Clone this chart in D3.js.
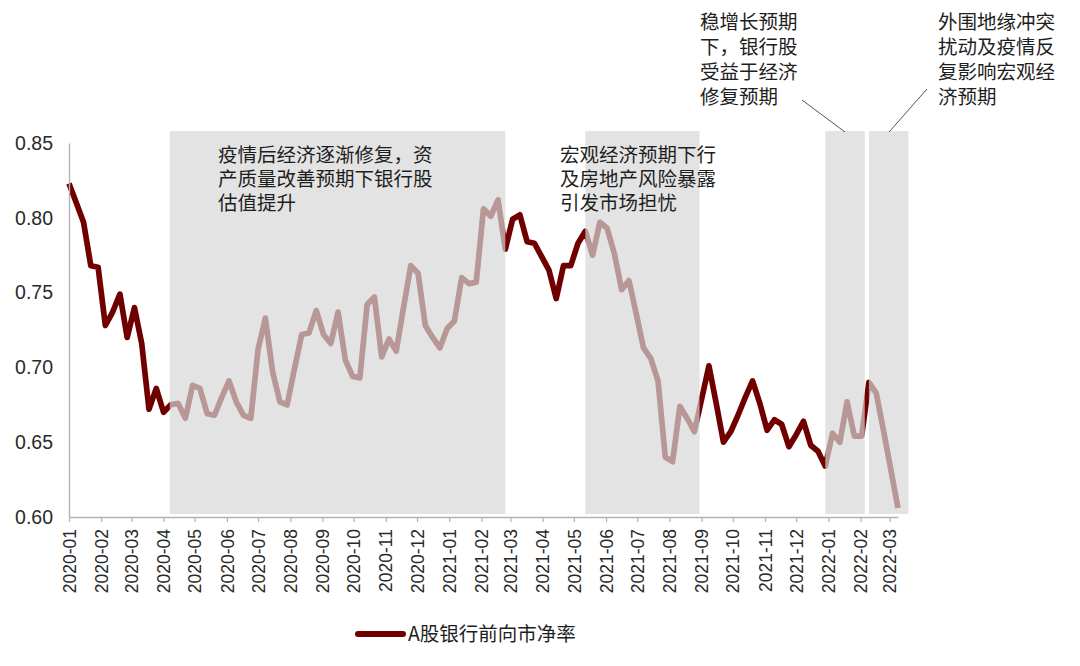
<!DOCTYPE html>
<html>
<head>
<meta charset="utf-8">
<script src="https://cdn.jsdelivr.net/npm/d3@7"></script>
<style>
  body { margin: 0; background: #fff; }
  text { font-family: "Liberation Sans", Arial, "Noto Sans CJK SC", sans-serif; }
  .cjk { font-family: "Noto Sans CJK SC", sans-serif; }
</style>
</head>
<body>
<div id="chart"></div>
<script>
// weekly observations, 2020-01-01 .. 2022-03-09 (Wednesdays)
const firstDate = "2020-01-01";
const lastDate = "2022-03-09";

// A股银行前向市净率
const pbValues = [
  0.823, 0.810, 0.797, 0.768, 0.767, 0.728, 0.737, 0.749, 0.720, 0.740,
  0.716, 0.672, 0.686, 0.670, 0.675, 0.676, 0.666, 0.688, 0.686, 0.669,
  0.668, 0.680, 0.691, 0.677, 0.668, 0.666, 0.712, 0.733, 0.697, 0.677,
  0.675, 0.699, 0.722, 0.723, 0.738, 0.722, 0.716, 0.737, 0.705, 0.694,
  0.693, 0.742, 0.747, 0.707, 0.719, 0.711, 0.740, 0.768, 0.763, 0.728,
  0.720, 0.713, 0.726, 0.731, 0.760, 0.756, 0.757, 0.806, 0.801, 0.812,
  0.779, 0.799, 0.802, 0.784, 0.783, 0.774, 0.765, 0.746, 0.768, 0.768,
  0.783, 0.791, 0.775, 0.797, 0.793, 0.776, 0.752, 0.758, 0.736, 0.713,
  0.706, 0.691, 0.640, 0.637, 0.674, 0.666, 0.657, 0.679, 0.701, 0.676,
  0.650, 0.657, 0.668, 0.680, 0.691, 0.676, 0.658, 0.665, 0.662, 0.647,
  0.655, 0.664, 0.648, 0.644, 0.634, 0.656, 0.650, 0.677, 0.654, 0.654,
  0.690, 0.683, 0.658, 0.632, 0.606
];

// shaded periods
const shadeStart = ["2020-04-07", "2021-05-12", "2021-12-29", "2022-02-09"];
const shadeEnd   = ["2021-02-24", "2021-08-30", "2022-02-05", "2022-03-19"];

const yTicks = [0.60, 0.65, 0.70, 0.75, 0.80, 0.85];
const seriesName = "A股银行前向市净率";

const notes = [
  ["疫情后经济逐渐修复，资", "产质量改善预期下银行股", "估值提升"],
  ["宏观经济预期下行", "及房地产风险暴露", "引发市场担忧"],
  ["稳增长预期", "下，银行股", "受益于经济", "修复预期"],
  ["外围地缘冲突", "扰动及疫情反", "复影响宏观经", "济预期"]
];

const W = 1080, H = 666;
const margin = { top: 143, right: 182, bottom: 149, left: 69 };

const parse = d3.timeParse("%Y-%m-%d");
const dates = d3.timeWednesday.range(parse(firstDate), d3.timeDay.offset(parse(lastDate), 1));
const data = dates.map((d, i) => ({ date: d, value: pbValues[i] }));

const svg = d3.select("#chart").append("svg")
  .attr("width", W).attr("height", H);

const x = d3.scaleTime()
  .domain([parse(firstDate), parse(lastDate)])
  .range([margin.left, W - margin.right]);
const y = d3.scaleLinear()
  .domain([0.60, 0.85])
  .range([H - margin.bottom, margin.top]);

// line
const line = d3.line()
  .x(d => x(d.date))
  .y(d => y(d.value));

svg.append("path")
  .datum(data)
  .attr("fill", "none")
  .attr("stroke", "#700000")
  .attr("stroke-width", 5.7)
  .attr("stroke-linejoin", "round")
  .attr("d", line);

// shaded boxes drawn over the line (fades it)
svg.selectAll(".shade")
  .data(shadeStart.map((s, i) => ({ s: parse(s), e: parse(shadeEnd[i]) })))
  .enter().append("rect")
  .attr("class", "shade")
  .attr("x", d => x(d.s))
  .attr("width", d => x(d.e) - x(d.s))
  .attr("y", y(0.85) - 12)
  .attr("height", (y(0.60) - 3) - (y(0.85) - 12))
  .attr("fill", "#d7d7d7")
  .attr("fill-opacity", 0.7);

// x axis
const xAxis = svg.append("g")
  .attr("transform", `translate(0,${y(0.60)})`)
  .call(d3.axisBottom(x)
    .ticks(d3.timeMonth.every(1))
    .tickFormat(d3.timeFormat("%Y-%m"))
    .tickSize(5)
    .tickSizeOuter(0));
xAxis.select(".domain").attr("stroke", "#b3b3b3").attr("stroke-width", 1.4);
xAxis.selectAll(".tick line").attr("stroke", "#b3b3b3").attr("stroke-width", 1.2);
xAxis.selectAll(".tick text")
  .attr("transform", "rotate(-90)")
  .attr("x", -12)
  .attr("y", 0)
  .attr("dy", "0.35em")
  .style("text-anchor", "end")
  .style("font-size", "17.5px")
  .attr("fill", "#2a2a2a");

// y axis
const yAxis = svg.append("g")
  .attr("transform", `translate(${margin.left},0)`)
  .call(d3.axisLeft(y)
    .tickValues(yTicks)
    .tickFormat(d3.format(".2f"))
    .tickSize(0)
    .tickPadding(16));
yAxis.select(".domain").attr("stroke", "#b3b3b3").attr("stroke-width", 1.4);
yAxis.selectAll(".tick text")
  .style("font-size", "19.5px")
  .attr("fill", "#2a2a2a");

// annotations, one text per line
const notePos = [[218, 155], [560, 155], [700, 22], [938, 22]];
notes.forEach((lines, k) => {
  lines.forEach((s, j) => {
    svg.append("text")
      .attr("class", "cjk")
      .attr("x", notePos[k][0])
      .attr("y", notePos[k][1] + j * (k < 2 ? 24.3 : 25))
      .attr("dy", "0.35em")
      .style("font-size", "19.5px")
      .attr("fill", "#1e1e1e")
      .text(s);
  });
});

// leader lines
const leaders = [[802, 100, 845, 132], [927, 89, 889, 132]];
svg.selectAll(".leader")
  .data(leaders)
  .enter().append("line")
  .attr("x1", d => d[0]).attr("y1", d => d[1])
  .attr("x2", d => d[2]).attr("y2", d => d[3])
  .attr("stroke", "#555")
  .attr("stroke-width", 1);

// legend
const lg = svg.append("g").attr("transform", "translate(355,634)");
lg.append("line")
  .attr("x1", 3).attr("x2", 48)
  .attr("stroke", "#700000")
  .attr("stroke-width", 6)
  .attr("stroke-linecap", "round");
lg.append("text")
  .attr("class", "cjk")
  .attr("x", 53)
  .attr("dy", "0.35em")
  .style("font-size", "19.5px")
  .attr("fill", "#1e1e1e")
  .text(seriesName);
</script>
</body>
</html>
